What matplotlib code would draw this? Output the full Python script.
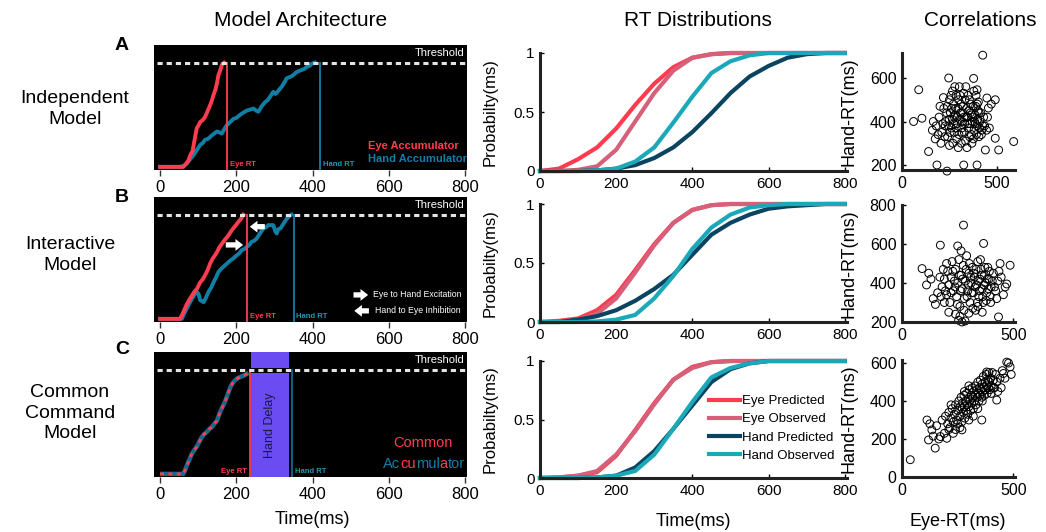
import matplotlib.pyplot as plt
from matplotlib.patches import Rectangle
import matplotlib.transforms as mtransforms

plt.rcParams['font.family'] = ['Liberation Sans', 'DejaVu Sans']

# ---------------- data ----------------
# accumulator traces (time in ms, activation relative to threshold)
acc_a_eye_t = [0, 61, 68, 74, 80, 85, 92, 96, 101, 105, 112, 118, 124, 131, 136, 140, 145, 149, 153, 158, 162, 168]
acc_a_eye_v = [0, 0, 0.03, 0.06, 0.12, 0.15, 0.29, 0.37, 0.40, 0.43, 0.45, 0.48, 0.53, 0.59, 0.64, 0.69, 0.74, 0.80, 0.88, 0.93, 0.98, 1.0]
acc_a_hand_t = [0, 52, 62, 70, 78, 87, 96, 105, 112, 118, 126, 135, 142, 149, 156, 162, 168, 175, 184, 192, 200, 210, 218,
                227, 236, 245, 252, 258, 266, 275, 282, 288, 293, 297, 302, 306, 312, 319, 326, 332, 338, 345, 352, 358,
                364, 371, 378, 385, 392, 398, 406]
acc_a_hand_v = [0, 0, 0.01, 0.03, 0.07, 0.11, 0.16, 0.21, 0.23, 0.26, 0.27, 0.30, 0.32, 0.34, 0.33, 0.32, 0.36, 0.40, 0.43,
                0.46, 0.47, 0.50, 0.52, 0.54, 0.55, 0.56, 0.54, 0.53, 0.58, 0.62, 0.64, 0.67, 0.70, 0.72, 0.70, 0.71, 0.74,
                0.77, 0.81, 0.85, 0.86, 0.87, 0.89, 0.91, 0.92, 0.93, 0.94, 0.96, 0.97, 0.99, 1.0]
acc_b_eye_t = [0, 52, 58, 64, 70, 76, 83, 90, 97, 105, 112, 118, 125, 131, 138, 144, 149, 156, 162, 170, 179, 186, 192,
               199, 205, 212, 218]
acc_b_eye_v = [0, 0, 0.04, 0.09, 0.14, 0.18, 0.22, 0.26, 0.29, 0.35, 0.38, 0.42, 0.47, 0.53, 0.58, 0.61, 0.64, 0.69, 0.72,
               0.76, 0.80, 0.84, 0.87, 0.90, 0.93, 0.96, 1.0]
acc_b_hand_t = [0, 57, 63, 70, 77, 83, 90, 96, 101, 105, 110, 114, 120, 127, 134, 140, 147, 153, 160, 166, 175, 184, 192,
                201, 208, 214, 221, 227, 234, 240, 247, 253, 262, 271, 278, 284, 290, 297, 302, 306, 310, 316, 323, 330,
                337, 345]
acc_b_hand_v = [0, 0, 0.05, 0.10, 0.15, 0.19, 0.23, 0.26, 0.24, 0.18, 0.17, 0.16, 0.20, 0.26, 0.30, 0.35, 0.40, 0.45, 0.48,
                0.50, 0.53, 0.56, 0.58, 0.61, 0.63, 0.66, 0.67, 0.69, 0.71, 0.74, 0.75, 0.77, 0.82, 0.87, 0.88, 0.90, 0.90,
                0.90, 0.84, 0.82, 0.86, 0.87, 0.91, 0.95, 0.98, 1.0]
acc_c_t = [0, 61, 66, 70, 76, 83, 90, 96, 103, 109, 115, 122, 129, 136, 142, 149, 153, 157, 162, 166, 171, 175, 180, 184,
           190, 197, 204, 210, 217, 223, 232]
acc_c_v = [0, 0, 0.04, 0.08, 0.13, 0.19, 0.23, 0.26, 0.31, 0.35, 0.38, 0.40, 0.43, 0.45, 0.48, 0.51, 0.55, 0.59, 0.63,
           0.66, 0.70, 0.74, 0.79, 0.83, 0.87, 0.90, 0.92, 0.93, 0.94, 0.95, 0.97]

eye_rt = [176, 228, 236]
hand_rt = [420, 350, 346]
hand_delay = (239, 339)

# RT distributions (cumulative), sampled every 50 ms
cdf_time = [0, 50, 100, 150, 200, 250, 300, 350, 400, 450, 500, 550, 600, 650, 700, 750, 800]
cdf_a_eye_pred = [0, 0.02, 0.10, 0.20, 0.36, 0.56, 0.74, 0.88, 0.96, 0.99, 1, 1, 1, 1, 1, 1, 1]
cdf_a_eye_obs = [0, 0, 0.01, 0.04, 0.18, 0.42, 0.66, 0.85, 0.96, 0.99, 1, 1, 1, 1, 1, 1, 1]
cdf_a_hand_pred = [0, 0, 0, 0.005, 0.02, 0.05, 0.11, 0.20, 0.33, 0.49, 0.66, 0.80, 0.89, 0.96, 0.99, 1, 1]
cdf_a_hand_obs = [0, 0, 0, 0.005, 0.02, 0.08, 0.20, 0.41, 0.63, 0.83, 0.93, 0.98, 1, 1, 1, 1, 1]
cdf_b_eye_pred = [0, 0.01, 0.03, 0.10, 0.23, 0.44, 0.66, 0.84, 0.95, 0.99, 1, 1, 1, 1, 1, 1, 1]
cdf_b_eye_obs = [0, 0, 0.02, 0.07, 0.20, 0.42, 0.65, 0.84, 0.95, 0.99, 1, 1, 1, 1, 1, 1, 1]
cdf_b_hand_pred = [0, 0, 0.02, 0.05, 0.10, 0.18, 0.28, 0.40, 0.57, 0.74, 0.84, 0.91, 0.96, 0.98, 0.99, 1, 1]
cdf_b_hand_obs = [0, 0, 0, 0.005, 0.02, 0.06, 0.20, 0.39, 0.62, 0.80, 0.91, 0.97, 0.99, 1, 1, 1, 1]
cdf_c_eye_pred = [0, 0.005, 0.02, 0.05, 0.19, 0.41, 0.64, 0.84, 0.95, 0.99, 1, 1, 1, 1, 1, 1, 1]
cdf_c_eye_obs = [0, 0.005, 0.02, 0.06, 0.20, 0.40, 0.63, 0.84, 0.94, 0.99, 1, 1, 1, 1, 1, 1, 1]
cdf_c_hand_pred = [0, 0, 0, 0.005, 0.02, 0.09, 0.23, 0.42, 0.62, 0.82, 0.93, 0.98, 1, 1, 1, 1, 1]
cdf_c_hand_obs = [0, 0, 0, 0.005, 0.02, 0.06, 0.20, 0.42, 0.65, 0.86, 0.94, 0.98, 1, 1, 1, 1, 1]
cdf_labels = ['Eye Predicted', 'Eye Observed', 'Hand Predicted', 'Hand Observed']

# Correlations (eye RT, hand RT) in ms
corr_a = [(88, 546), (61, 400), (105, 415), (425, 705), (588, 308), (509, 269), (491, 323), (439, 269), (140, 262),
          (184, 200), (237, 172), (325, 200), (395, 200), (246, 600), (377, 598), (395, 546), (491, 500), (447, 508),
          (470, 480), (455, 462), (180, 380), (195, 420), (210, 350), (220, 460), (230, 400), (240, 330), (250, 500),
          (255, 440), (260, 370), (265, 410), (270, 480), (275, 350), (280, 430), (285, 520), (290, 390), (295, 460),
          (300, 340), (305, 410), (310, 480), (315, 370), (320, 440), (325, 530), (330, 390), (335, 310), (340, 460),
          (345, 420), (350, 370), (355, 500), (360, 440), (365, 340), (370, 400), (375, 470), (380, 360), (385, 430),
          (390, 520), (395, 380), (400, 450), (405, 330), (410, 400), (420, 360), (200, 470), (215, 390), (225, 330),
          (235, 440), (245, 380), (250, 290), (258, 520), (262, 460), (268, 300), (272, 390), (278, 560), (282, 460),
          (288, 320), (292, 420), (298, 500), (302, 560), (308, 440), (312, 300), (318, 400), (322, 470), (328, 350),
          (332, 500), (338, 420), (342, 280), (348, 520), (352, 450), (358, 390), (362, 480), (368, 300), (372, 420),
          (378, 540), (382, 400), (388, 470), (392, 340), (398, 410), (402, 490), (408, 370), (415, 440), (425, 380),
          (430, 420), (190, 340), (205, 300), (218, 510), (228, 380), (238, 470), (248, 410), (253, 350), (266, 540),
          (276, 420), (286, 370), (296, 280), (306, 520), (316, 350), (326, 420), (336, 560), (346, 390), (356, 330),
          (366, 430), (376, 320), (386, 390), (396, 480), (406, 440), (418, 340), (435, 380), (445, 360), (165, 400),
          (175, 320), (160, 360), (450, 420), (460, 370)]
corr_b = [(276, 697), (172, 594), (366, 603), (90, 474), (440, 500), (485, 491), (433, 226), (254, 209), (269, 200),
          (283, 205), (463, 380), (470, 395), (250, 590), (265, 565), (120, 450), (130, 420), (110, 390), (140, 320),
          (150, 290), (160, 350), (180, 380), (190, 420), (200, 340), (205, 460), (210, 390), (215, 300), (220, 430),
          (225, 510), (230, 360), (235, 410), (240, 470), (245, 330), (250, 400), (255, 520), (260, 280), (265, 440),
          (270, 370), (275, 490), (280, 320), (285, 410), (290, 540), (295, 360), (300, 450), (305, 300), (310, 400),
          (315, 480), (320, 350), (325, 430), (330, 260), (335, 390), (340, 510), (345, 330), (350, 420), (355, 470),
          (360, 370), (365, 300), (370, 440), (375, 400), (380, 350), (385, 480), (390, 420), (395, 330), (400, 380),
          (410, 450), (420, 360), (430, 410), (445, 430), (455, 340), (190, 300), (200, 500), (210, 250), (220, 350),
          (228, 460), (238, 380), (248, 290), (258, 440), (262, 360), (272, 420), (278, 260), (288, 470), (292, 330),
          (298, 390), (302, 500), (308, 430), (312, 350), (318, 270), (322, 450), (328, 380), (332, 470), (338, 300),
          (342, 410), (348, 360), (352, 520), (358, 440), (362, 330), (368, 390), (372, 480), (378, 310), (382, 420),
          (388, 370), (392, 460), (398, 300), (405, 410), (415, 380), (425, 320), (435, 460), (170, 430), (175, 330),
          (185, 470), (195, 360), (240, 240), (260, 230), (300, 245), (340, 280), (360, 250)]
corr_c = [(37, 91), (112, 300), (119, 195), (149, 152), (134, 248), (125, 280), (140, 215), (155, 270), (165, 200),
          (172, 213), (180, 300), (190, 230), (201, 204), (195, 320), (205, 280), (210, 340), (215, 260), (220, 310),
          (225, 360), (230, 290), (235, 330), (240, 380), (245, 300), (250, 350), (255, 400), (260, 320), (262, 370),
          (265, 420), (268, 290), (270, 360), (272, 390), (275, 340), (278, 430), (280, 370), (282, 310), (285, 400),
          (288, 350), (290, 440), (292, 380), (295, 330), (298, 410), (300, 370), (302, 460), (305, 400), (308, 350),
          (310, 430), (312, 390), (315, 470), (318, 420), (320, 360), (322, 450), (325, 400), (328, 480), (330, 430),
          (332, 380), (335, 460), (338, 420), (340, 500), (342, 440), (345, 400), (348, 470), (350, 430), (352, 510),
          (355, 460), (358, 420), (360, 490), (362, 450), (365, 530), (368, 470), (370, 430), (372, 500), (375, 460),
          (378, 540), (380, 480), (382, 440), (385, 510), (388, 470), (390, 550), (392, 500), (395, 460), (398, 520),
          (400, 480), (405, 550), (410, 510), (415, 470), (420, 540), (425, 500), (358, 300), (269, 248), (380, 553),
          (425, 405), (440, 520), (450, 560), (455, 545), (470, 605), (478, 600), (485, 580), (490, 540), (462, 520),
          (445, 470), (430, 450), (260, 260), (240, 250), (250, 280), (230, 230), (300, 300), (320, 320), (210, 250),
          (220, 380), (280, 450), (300, 480), (340, 360), (360, 400), (400, 440), (410, 470)]

# ---------------- style ----------------
RED = '#ff3d50'
BLUE = '#127ea6'
CBLUE = '#17688e'
RT_TEAL = '#1e9ab3'
cdf_colors = ['#ff3b4e', '#d6607a', '#0a4460', '#1ba8b8']

W, H = 1046, 532
fig = plt.figure(figsize=(W / 100, H / 100), dpi=100)


def box(left, top, right, bottom):
    return [left / W, 1 - bottom / H, (right - left) / W, (bottom - top) / H]


def fig_text(x, y, s, **kw):
    fig.text(x / W, 1 - y / H, s, **kw)


# ---------------- column 1: model architecture ----------------
acc_tops = [45, 197, 352]
acc_axes = []
for top in acc_tops:
    ax = fig.add_axes(box(154, top, 467, top + 125))
    ax.set_facecolor('black')
    ax.set_xlim(-16, 805)
    ax.set_ylim(-0.03, 1.17)
    for sp in ax.spines.values():
        sp.set_visible(False)
    ax.set_yticks([])
    ax.set_xticks([0, 200, 400, 600, 800])
    ax.tick_params(axis='x', direction='out', length=4, width=1, color='#333333', labelsize=12, pad=3)
    ax.plot([-8, 800], [1, 1], color='#e4e4e4', lw=2.2, dashes=(1.7, 1.3), zorder=5)
    ax.text(0.993, 0.935, 'Threshold', transform=ax.transAxes, ha='right', va='center', color='white', fontsize=8)
    acc_axes.append(ax)

axA, axB, axC = acc_axes

# panel A
axA.plot(acc_a_hand_t, acc_a_hand_v, color=BLUE, lw=2.8, solid_joinstyle='round')
axA.plot(acc_a_eye_t, acc_a_eye_v, color=RED, lw=2.8, solid_joinstyle='round')
axA.text(0.684, 0.19, 'Eye Accumulator', transform=axA.transAxes, color=RED, fontsize=8, fontweight='bold', va='center')
axA.text(0.684, 0.085, 'Hand Accumulator', transform=axA.transAxes, color=BLUE, fontsize=8, fontweight='bold', va='center')

# panel B
axB.plot(acc_b_hand_t, acc_b_hand_v, color=BLUE, lw=2.8, solid_joinstyle='round')
axB.plot(acc_b_eye_t, acc_b_eye_v, color=RED, lw=2.8, solid_joinstyle='round')
arrow_kw = dict(arrowstyle='simple,head_length=0.55,head_width=0.85,tail_width=0.38', color='white', lw=0)
axB.annotate('', xy=(225, 0.71), xytext=(165, 0.71), arrowprops=arrow_kw, zorder=6)
axB.annotate('', xy=(228, 0.885), xytext=(282, 0.885), arrowprops=arrow_kw, zorder=6)
axB.annotate('', xy=(553, 0.23), xytext=(500, 0.23), arrowprops=arrow_kw)
axB.annotate('', xy=(502, 0.077), xytext=(555, 0.077), arrowprops=arrow_kw)
axB.text(559, 0.23, 'Eye to Hand Excitation', color='white', fontsize=6.3, va='center')
axB.text(564, 0.077, 'Hand to Eye Inhibition', color='white', fontsize=6.3, va='center')

# panel C
axC.add_patch(Rectangle((hand_delay[0], -0.03), hand_delay[1] - hand_delay[0], 1.2, color='#6a4cf2', lw=0, zorder=1))
axC.add_patch(Rectangle((hand_delay[0], 0.967), hand_delay[1] - hand_delay[0], 0.05, color='black', lw=0, zorder=2))
axC.text(sum(hand_delay) / 2, 0.47, 'Hand Delay', rotation=90, ha='center', va='center', fontsize=9, color='#1a1a40')
axC.plot(acc_c_t, acc_c_v, color=CBLUE, lw=3.2, solid_capstyle='butt', zorder=3)
axC.plot(acc_c_t, acc_c_v, color=RED, lw=2.0, dashes=(1.4, 1.6), zorder=4)


def text_width(ax, s, size, renderer):
    tmp = ax.text(0, 0, s, fontsize=size, transform=ax.transAxes)
    w = tmp.get_window_extent(renderer).width
    tmp.remove()
    return w


def color_word(ax, x, y, chunks, size):
    # each chunk starts where it would sit inside the full word
    renderer = fig.canvas.get_renderer()
    prefix = ''
    for s, col in chunks:
        w = 0
        if prefix:
            w = text_width(ax, prefix + s, size, renderer) - text_width(ax, s, size, renderer)
        off = mtransforms.offset_copy(ax.transAxes, fig=fig, x=w, y=0, units='dots')
        ax.text(x, y, s, color=col, fontsize=size, transform=off, va='bottom')
        prefix += s


color_word(axC, 0.764, 0.215, [('Common', RED)], 10.5)
color_word(axC, 0.732, 0.05, [('Ac', BLUE), ('cu', RED), ('mul', BLUE), ('a', RED), ('tor', BLUE)], 10.5)

# RT markers
for i, ax in enumerate(acc_axes):
    ax.plot([eye_rt[i]] * 2, [-0.03, 1.0], color=RED, lw=1.3, zorder=4)
    ax.plot([hand_rt[i]] * 2, [-0.03, 1.0], color=CBLUE if i == 2 else BLUE, lw=1.3, zorder=4)
    trans = mtransforms.blended_transform_factory(ax.transData, ax.transAxes)
    if i == 2:
        ax.text(eye_rt[i] - 8, 0.045, 'Eye RT', transform=trans, color=RED, fontsize=5.5, fontweight='bold',
                ha='right', va='center')
    else:
        ax.text(eye_rt[i] + 7, 0.045, 'Eye RT', transform=trans, color=RED, fontsize=5.5, fontweight='bold',
                va='center')
    ax.text(hand_rt[i] + 7, 0.045, 'Hand RT', transform=trans, color=RT_TEAL, fontsize=5.5, fontweight='bold',
            va='center')

# ---------------- column 2: RT distributions ----------------
cdf_sets = [
    [cdf_a_eye_pred, cdf_a_eye_obs, cdf_a_hand_pred, cdf_a_hand_obs],
    [cdf_b_eye_pred, cdf_b_eye_obs, cdf_b_hand_pred, cdf_b_hand_obs],
    [cdf_c_eye_pred, cdf_c_eye_obs, cdf_c_hand_pred, cdf_c_hand_obs],
]
cdf_boxes = [(53, 171), (204, 322), (361, 478)]
cdf_axes = []
for (top, bottom), curves in zip(cdf_boxes, cdf_sets):
    ax = fig.add_axes(box(540, top, 847, bottom))
    for c, lab, col in zip(curves, cdf_labels, cdf_colors):
        ax.plot(cdf_time, c, color=col, lw=3, label=lab, clip_on=False)
    ax.set_xlim(0, 806)
    ax.set_ylim(0, 1)
    ax.set_xticks([0, 200, 400, 600, 800])
    ax.set_yticks([0, 0.5, 1])
    ax.set_yticklabels(['0', '0.5', '1'])
    for s in ['top', 'right']:
        ax.spines[s].set_visible(False)
    for s in ['left', 'bottom']:
        ax.spines[s].set_linewidth(2.2)
        ax.spines[s].set_color('#222222')
    ax.tick_params(direction='in', length=3, width=1, labelsize=11, pad=4)
    ax.set_ylabel('Probabilty(ms)', fontsize=12)
    ax.yaxis.set_label_coords(-0.137, 0.5)
    cdf_axes.append(ax)

cdf_axes[2].legend(loc='upper left', bbox_to_anchor=(0.552, 0.71), frameon=False, fontsize=9.5, handlelength=2.3,
                   handletextpad=0.15, labelspacing=0.45, borderpad=0, borderaxespad=0)

# ---------------- column 3: correlations ----------------
corr_sets = [corr_a, corr_b, corr_c]
corr_boxes = [(53, 170), (205, 322), (360, 477)]
corr_xlim = [(0, 595), (0, 507), (0, 507)]
corr_ylim = [(177, 715), (200, 800), (0, 616)]
corr_yticks = [[200, 400, 600], [200, 400, 600, 800], [0, 200, 400, 600]]
for pts, (top, bottom), xl, yl, yt in zip(corr_sets, corr_boxes, corr_xlim, corr_ylim, corr_yticks):
    ax = fig.add_axes(box(902, top, 1015, bottom))
    xs, ys = zip(*pts)
    ax.scatter(xs, ys, s=32, facecolors='none', edgecolors='black', linewidths=0.7, clip_on=False)
    ax.set_xlim(*xl)
    ax.set_ylim(*yl)
    ax.set_xticks([0, 500])
    ax.set_yticks(yt)
    for s in ['top', 'right']:
        ax.spines[s].set_visible(False)
    for s in ['left', 'bottom']:
        ax.spines[s].set_linewidth(2.2)
        ax.spines[s].set_color('#222222')
    ax.tick_params(direction='in', length=3, width=1, labelsize=11.5, pad=4)
    ax.set_ylabel('Hand-RT(ms)', fontsize=13)
    ax.yaxis.set_label_coords(-0.39, 0.5)

# ---------------- labels ----------------
fig_text(301, 21, 'Model Architecture', ha='center', va='center', fontsize=15)
fig_text(698, 21, 'RT Distributions', ha='center', va='center', fontsize=15)
fig_text(980, 21, 'Correlations', ha='center', va='center', fontsize=15)

fig_text(122, 45, 'A', ha='center', va='center', fontsize=14, fontweight='bold')
fig_text(122, 197, 'B', ha='center', va='center', fontsize=14, fontweight='bold')
fig_text(122, 350, 'C', ha='center', va='center', fontsize=14, fontweight='bold')

fig_text(75, 109, 'Independent\nModel', ha='center', va='center', fontsize=14, linespacing=1.3)
fig_text(70, 255, 'Interactive\nModel', ha='center', va='center', fontsize=14, linespacing=1.3)
fig_text(70, 413, 'Common\nCommand\nModel', ha='center', va='center', fontsize=14, linespacing=1.3)

fig_text(312, 519, 'Time(ms)', ha='center', va='center', fontsize=13)
fig_text(693, 521, 'Time(ms)', ha='center', va='center', fontsize=13)
fig_text(958, 521, 'Eye-RT(ms)', ha='center', va='center', fontsize=13)

fig.savefig('out.png', dpi=100)
